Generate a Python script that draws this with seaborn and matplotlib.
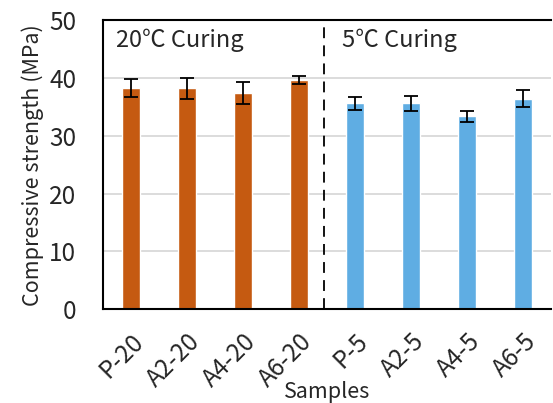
import matplotlib
matplotlib.use("Agg")
import matplotlib.pyplot as plt
import seaborn as sns
import pandas as pd

samples = ["P-20", "A2-20", "A4-20", "A6-20", "P-5", "A2-5", "A4-5", "A6-5"]
strength = [38.2, 38.2, 37.4, 39.6, 35.6, 35.6, 33.4, 36.4]
errors = [1.55, 1.8, 1.95, 0.7, 1.15, 1.35, 0.95, 1.5]
groups = ["20", "20", "20", "20", "5", "5", "5", "5"]
yticks = [0, 10, 20, 30, 40, 50]
palette = {"20": "#C55A11", "5": "#5FADE3"}

sns.set_theme(style="white")
plt.rcParams["font.family"] = ["Noto Sans CJK KR", "DejaVu Sans"]

df = pd.DataFrame({"Samples": samples, "Strength": strength, "Group": groups})

fig = plt.figure(figsize=(5.53, 4.03), dpi=100)
ax = fig.add_axes([0.186, 0.233, 0.811, 0.717])

sns.barplot(data=df, x="Samples", y="Strength", hue="Group", palette=palette,
            dodge=False, width=0.32, legend=False, ax=ax, errorbar=None,
            saturation=1)
ax.errorbar(range(len(samples)), strength, yerr=errors, fmt="none",
            ecolor="black", elinewidth=1.3, capsize=5, capthick=1.3, zorder=5)

ax.set_ylim(0, 50)
ax.set_xlim(-0.5, 7.5)
ax.set_yticks(yticks)
ax.set_yticklabels([str(v) for v in yticks], fontsize=17.5)
ax.set_xticks(range(len(samples)))
ax.set_xticklabels(samples, rotation=45, ha="right", rotation_mode="anchor", fontsize=17.5)
ax.tick_params(axis="y", length=0, pad=19)
ax.tick_params(axis="x", length=0, pad=14)
ax.set_ylabel("Compressive strength (MPa)", fontsize=15.5, labelpad=4)
ax.set_xlabel("Samples", fontsize=15.5, labelpad=-8)

for y in [10, 20, 30, 40]:
    ax.axhline(y, color="#D9D9D9", lw=1.3, zorder=0)

for side in ["left", "bottom", "top"]:
    ax.spines[side].set_color("black")
    ax.spines[side].set_linewidth(1.5)
ax.spines["right"].set_visible(False)

ax.axvline(3.45, color="black", lw=1.3, ls=(0, (6, 4)), zorder=4)
ax.text(-0.27, 46.6, "20℃ Curing", fontsize=17, va="center", ha="left")
ax.text(3.76, 46.6, "5℃ Curing", fontsize=17, va="center", ha="left")

fig.savefig("out.png", dpi=100)
